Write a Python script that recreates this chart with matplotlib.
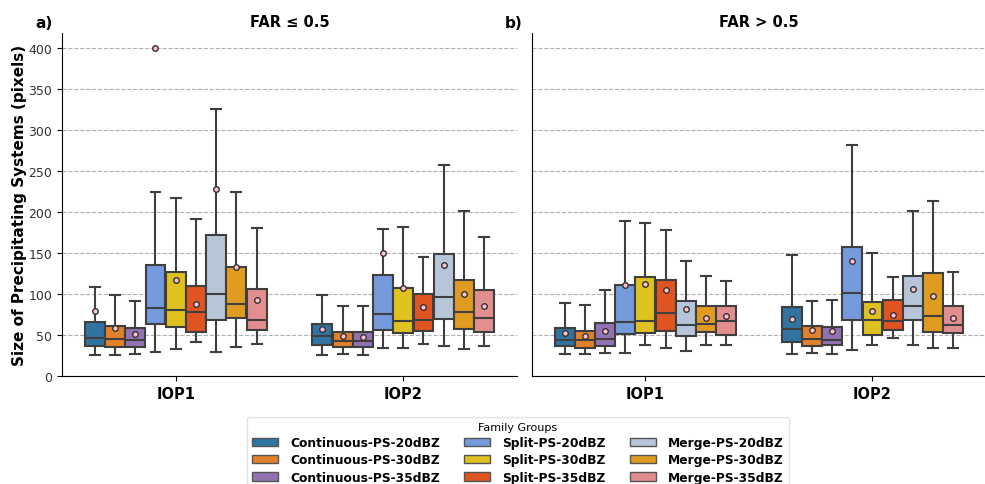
import colorsys
import matplotlib
matplotlib.use("Agg")
import matplotlib.pyplot as plt
import matplotlib.colors as mcolors
from matplotlib.patches import Patch

# ---------------- data ----------------
groups = ["IOP1", "IOP2"]
families = ["Continuous-PS-20dBZ", "Continuous-PS-30dBZ", "Continuous-PS-35dBZ",
            "Split-PS-20dBZ", "Split-PS-30dBZ", "Split-PS-35dBZ",
            "Merge-PS-20dBZ", "Merge-PS-30dBZ", "Merge-PS-35dBZ"]
family_colors = ["#1f77b4", "#ff7f0e", "#9467bd",
                 "#6495ED", "#FFD700", "#FF4500",
                 "#B0C4DE", "#FFA500", "#F08080"]

# FAR <= 0.5 : per group, per family -> [whislo, q1, med, q3, whishi, mean]
far_low_iop1 = [
    [25.6, 36.6, 46.8, 65.8, 108.2, 78.9],
    [25.6, 35.8, 45.1, 61.4, 98.8, 58.1],
    [26.4, 35.8, 43.5, 58.5, 91.5, 51.6],
    [29.3, 63.0, 83.3, 135.4, 224.8, 400.0],
    [32.9, 60.2, 80.5, 127.2, 217.5, 116.7],
    [41.9, 54.0, 78.5, 109.3, 191.9, 87.4],
    [29.3, 68.7, 100.4, 171.5, 324.8, 228.0],
    [35.4, 71.1, 87.4, 133.3, 224.0, 133.3],
    [38.6, 56.5, 68.7, 106.0, 180.0, 92.7],
]
far_low_iop2 = [
    [25.6, 37.4, 48.4, 63.4, 99.2, 56.9],
    [26.8, 34.9, 43.1, 54.0, 85.8, 48.8],
    [25.6, 35.8, 42.3, 54.0, 85.0, 48.0],
    [33.7, 56.5, 76.0, 123.2, 179.3, 149.6],
    [33.7, 52.4, 66.7, 106.9, 181.7, 107.3],
    [39.4, 54.9, 68.3, 100.4, 145.5, 83.7],
    [36.6, 69.5, 96.0, 148.8, 257.3, 135.7],
    [32.9, 57.3, 77.7, 117.5, 201.2, 100.0],
    [36.6, 54.0, 71.1, 104.9, 169.9, 85.8],
]
# FAR > 0.5
far_high_iop1 = [
    [26.4, 36.6, 43.9, 58.9, 89.4, 52.4],
    [27.2, 34.5, 43.5, 55.3, 86.2, 48.8],
    [27.6, 36.6, 45.1, 64.2, 105.3, 54.5],
    [28.5, 51.2, 65.9, 111.4, 189.4, 110.6],
    [37.4, 52.8, 66.7, 120.7, 186.2, 112.2],
    [34.5, 54.5, 76.4, 116.7, 178.0, 104.9],
    [30.9, 48.4, 62.2, 91.1, 139.8, 81.7],
    [38.2, 54.0, 63.8, 85.8, 122.0, 70.7],
    [37.4, 50.4, 66.7, 85.0, 115.9, 72.8],
]
far_high_iop2 = [
    [26.4, 41.1, 57.3, 83.7, 147.2, 69.9],
    [28.5, 36.6, 44.7, 61.0, 91.5, 56.1],
    [26.4, 37.4, 43.5, 59.3, 93.1, 54.5],
    [32.1, 68.7, 101.6, 157.3, 281.7, 140.2],
    [38.2, 50.4, 68.3, 90.2, 150.0, 79.3],
    [45.9, 55.7, 67.5, 92.3, 121.1, 74.4],
    [37.4, 68.3, 85.8, 122.4, 201.6, 105.7],
    [33.7, 54.0, 73.6, 126.0, 213.4, 97.6],
    [34.5, 52.0, 62.2, 85.0, 126.8, 70.7],
]
panels = [("a)", "FAR \u2264 0.5", [far_low_iop1, far_low_iop2]),
          ("b)", "FAR > 0.5", [far_high_iop1, far_high_iop2])]


def desat(c, s=0.75):
    r, g, b = mcolors.to_rgb(c)
    h, l, sat = colorsys.rgb_to_hls(r, g, b)
    return colorsys.hls_to_rgb(h, l, sat * s)


colors = [desat(c) for c in family_colors]
edge = "#3f3f3f"

fig = plt.figure(figsize=(9.85, 4.85), dpi=100)
ax_pos = [[0.0629, 0.2227, 0.462, 0.7072], [0.540, 0.2227, 0.461, 0.7072]]
nf = len(families)
slot = 0.8 / nf
bw = slot * 0.985

for pi, (letter, title, gdata) in enumerate(panels):
    ax = fig.add_axes(ax_pos[pi])
    ax.set_axisbelow(True)
    ax.yaxis.grid(True, linestyle="--", color="#b0b0b0", linewidth=0.8)
    for gi, fam_stats in enumerate(gdata):
        stats = []
        positions = []
        for fi, st in enumerate(fam_stats):
            wl, q1, med, q3, wh, mean = st
            stats.append(dict(whislo=wl, q1=q1, med=med, q3=q3, whishi=wh,
                              mean=mean, fliers=[]))
            positions.append(gi - 0.4 + slot * (fi + 0.5))
        bp = ax.bxp(stats, positions=positions, widths=bw, capwidths=bw * 0.5,
                    patch_artist=True, showmeans=True, showfliers=False,
                    boxprops=dict(edgecolor=edge, linewidth=1.5),
                    medianprops=dict(color=edge, linewidth=1.5),
                    whiskerprops=dict(color=edge, linewidth=1.5),
                    capprops=dict(color=edge, linewidth=1.5),
                    meanprops=dict(marker="o", markerfacecolor="pink",
                                   markeredgecolor="#333333", markersize=4,
                                   markeredgewidth=1.0))
        for patch, col in zip(bp["boxes"], colors):
            patch.set_facecolor(col)
        for m in bp["means"]:
            m.set_clip_on(False)
    ax.set_xlim(-0.5, 1.5)
    ax.set_ylim(0, 418)
    ax.set_xticks(range(len(groups)))
    ax.set_xticklabels(groups, fontsize=10.5, fontweight="bold")
    ax.set_yticks(range(0, 401, 50))
    ax.tick_params(axis="y", labelsize=9, labelcolor="#333333")
    for side in ["top", "right"]:
        ax.spines[side].set_visible(False)
    ax.set_title(title, fontsize=10.5, fontweight="bold", pad=5)
    if pi == 0:
        ax.set_ylabel("Size of Precipitating Systems (pixels)", fontsize=11,
                      fontweight="bold", labelpad=1)
    else:
        ax.tick_params(axis="y", labelleft=False, left=False)

fig.text(35 / 985, 1 - 23 / 485, "a)", fontsize=11, fontweight="bold",
         ha="left", va="center")
fig.text(505 / 985, 1 - 23 / 485, "b)", fontsize=11, fontweight="bold",
         ha="left", va="center")

handles = [Patch(facecolor=c, edgecolor="#555555", linewidth=1.0) for c in colors]
leg = fig.legend(handles, families, title="Family Groups", ncol=3,
                 loc="upper center", bbox_to_anchor=(518 / 985, 1 - 418 / 485),
                 prop=dict(size=8.8, weight="bold"), title_fontsize=8,
                 labelspacing=0.35, columnspacing=2.0, handlelength=2.1,
                 handleheight=0.65, handletextpad=1.0, frameon=True,
                 borderpad=0.4, borderaxespad=0)
leg.get_frame().set_edgecolor("#dddddd")

fig.savefig("out.png", dpi=100)
